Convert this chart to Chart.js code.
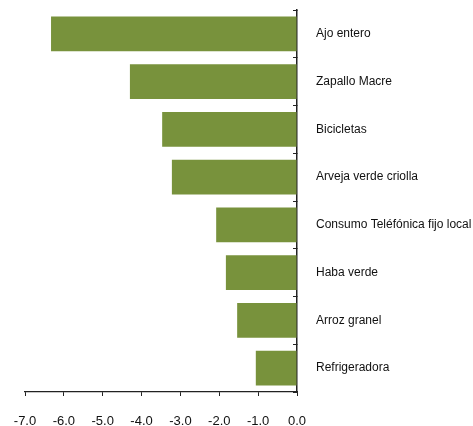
<!DOCTYPE html>
<html>
<head>
<meta charset="utf-8">
<script src="https://cdn.jsdelivr.net/npm/chart.js@4"></script>
<style>
  html, body { margin: 0; padding: 0; background: #fff; }
  #wrap { width: 473px; height: 426px; position: relative; }
</style>
</head>
<body>
<div id="wrap"><canvas id="chart"></canvas></div>
<script>
// data
const products = ['Ajo entero', 'Zapallo Macre', 'Bicicletas', 'Arveja verde criolla',
  'Consumo Teléfónica fijo local', 'Haba verde', 'Arroz granel', 'Refrigeradora'];
const variation = [-6.33, -4.30, -3.47, -3.22, -2.08, -1.83, -1.54, -1.06];
const xMin = -7, xMax = 0, xStep = 1;

const axisColor = '#222';

new Chart(document.getElementById('chart'), {
  type: 'bar',
  data: {
    labels: products,
    datasets: [{
      data: variation,
      backgroundColor: '#78923c',
      borderWidth: 0,
      barPercentage: 0.73,
      categoryPercentage: 1
    }]
  },
  options: {
    indexAxis: 'y',
    responsive: true, maintainAspectRatio: false,
    animation: false,
    layout: { padding: { top: 10, left: 25, right: 0, bottom: 0 } },
    plugins: { legend: { display: false }, tooltip: { enabled: false } },
    scales: {
      x: {
        min: xMin, max: xMax,
        grid: { display: true, drawOnChartArea: false, tickLength: 4, color: axisColor },
        border: { color: axisColor, width: 1.2 },
        ticks: { stepSize: xStep, color: '#111', padding: 18, maxRotation: 0,
          font: { family: "'Liberation Sans', Arial, sans-serif", size: 13 },
          callback: v => v.toFixed(1) },
        afterFit: s => { s.height = 34; s.paddingLeft = 0; s.paddingRight = 0; }
      },
      y: {
        position: 'right',
        grid: { display: true, drawOnChartArea: false, tickLength: -4, color: axisColor, offset: true },
        border: { color: axisColor, width: 1.5 },
        ticks: { color: '#111', padding: 23,
          font: { family: "'Liberation Sans', Arial, sans-serif", size: 12 } },
        afterFit: s => { s.width = 176; s.paddingTop = 0; s.paddingBottom = 0; }
      }
    }
  }
});
</script>
</body>
</html>
